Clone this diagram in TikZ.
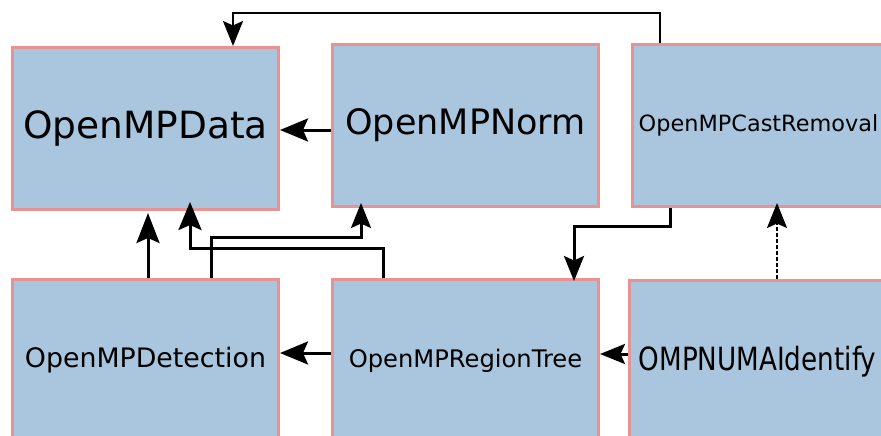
\documentclass[tikz,border=0pt]{standalone}
\usepackage{fontspec}
\setmainfont{DejaVu Sans}
\usetikzlibrary{arrows.meta}
\definecolor{boxfill}{RGB}{169,198,222}
\definecolor{boxline}{RGB}{232,146,146}
\tikzset{
  modbox/.style={draw=boxline, fill=boxfill, line width=3pt, anchor=north west,
    minimum width=266pt, minimum height=162pt, inner sep=0pt, align=center},
  arr/.style={draw=black, line width=3pt,
    -{Stealth[length=28pt, width=23pt, inset=5pt]}},
  smallarr/.style={draw=black, line width=3pt,
    -{Stealth[length=25pt, width=20pt, inset=4.5pt]}},
  bigarr/.style={draw=black, line width=3pt,
    -{Stealth[length=30pt, width=23pt, inset=5pt]}},
  thinarr/.style={smallarr, line width=2.5pt},
  dasharr/.style={smallarr, line width=2.6pt, dash pattern=on 4pt off 2pt},
}
\begin{document}
\begin{tikzpicture}[x=1pt, y=-1pt]
  \useasboundingbox (0,0) rectangle (881,436);
  \clip (0,0) rectangle (881,436);

  % module boxes
  \node[modbox] (data) at (11,46)  {\fontsize{37.5}{45}\selectfont OpenMPData};
  \node[modbox] (norm) at (331,43) {\fontsize{35}{42}\selectfont OpenMPNorm};
  \node[modbox] (cast) at (631,43) {\fontsize{22.4}{27}\selectfont\hspace*{-14pt}OpenMPCastRemoval};
  \node[modbox] (det)  at (11,278) {\fontsize{26.8}{32}\selectfont OpenMPDetection};
  \node[modbox] (reg)  at (331,278) {\fontsize{24.2}{29}\selectfont OpenMPRegionTree};
  \node[modbox] (numa) at (628,279)
    {\hspace*{-10pt}\scalebox{0.82}[1]{\fontsize{32}{38}\selectfont OMPNUMAIdentify}};

  % bend points of the routed connectors
  \coordinate (castbend) at (233,13);
  \coordinate (regbend)  at (190,248);
  \coordinate (detbend)  at (361,237);
  \coordinate (treebend) at (574,226);

  % connectors
  \draw[arr] (norm.west |- 0,130) -- (data.east |- 0,130);
  \draw[thinarr] (cast.north -| 660,0) |- (castbend) -- (data.north -| castbend);
  \draw[bigarr] (det.north -| 148,0) -- (148,213);
  \draw[arr] (reg.north -| 383,0) |- (regbend) -- (190,202);
  \draw[smallarr] (det.north -| 211,0) |- (detbend) -- (361,203);
  \draw[smallarr] (cast.south -| 670,0) |- (treebend) -- (574,281);
  \draw[dasharr] (numa.north -| 777,0) -- (777,203);
  \draw[smallarr] (numa.west |- 0,354) -- (reg.east |- 0,354);
  \draw[arr] (reg.west |- 0,353) -- (det.east |- 0,353);
\end{tikzpicture}
\end{document}
